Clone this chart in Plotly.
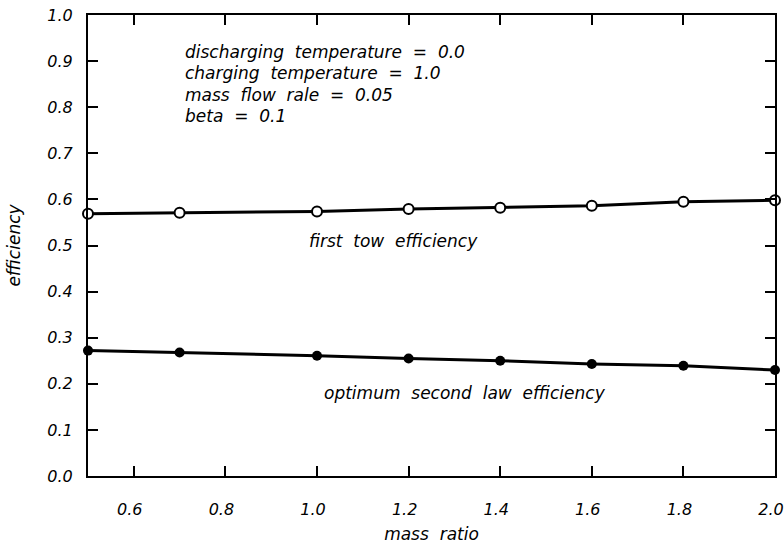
import plotly.graph_objects as go

# mass ratio values where points were plotted
mass_ratio = [0.5, 0.7, 1.0, 1.2, 1.4, 1.6, 1.8, 2.0]
first_law = [0.569, 0.571, 0.574, 0.579, 0.582, 0.586, 0.595, 0.598]
second_law = [0.272, 0.268, 0.261, 0.255, 0.250, 0.243, 0.239, 0.230]

x_ticks = [0.6, 0.8, 1.0, 1.2, 1.4, 1.6, 1.8, 2.0]
y_ticks = [0.0, 0.1, 0.2, 0.3, 0.4, 0.5, 0.6, 0.7, 0.8, 0.9, 1.0]

params = [
    "discharging  temperature  =  0.0",
    "charging  temperature  =  1.0",
    "mass  flow  rale  =  0.05",
    "beta  =  0.1",
]

FONT = "DejaVu Sans"
ifont = dict(family=FONT, size=16, color="black", style="italic")
afont = dict(family=FONT, size=17, color="black", style="italic")

fig = go.Figure()
fig.add_trace(go.Scatter(
    x=mass_ratio, y=first_law, mode="lines+markers",
    line=dict(color="black", width=3),
    marker=dict(symbol="circle", size=10, color="white",
                line=dict(color="black", width=2)),
    cliponaxis=False, showlegend=False))
fig.add_trace(go.Scatter(
    x=mass_ratio, y=second_law, mode="lines+markers",
    line=dict(color="black", width=3),
    marker=dict(symbol="circle", size=10, color="black"),
    cliponaxis=False, showlegend=False))

for i, t in enumerate(params):
    fig.add_annotation(text=t, xref="paper", yref="paper",
                       x=0.138, y=0.92 - i * 0.0466, xanchor="left", yanchor="middle",
                       showarrow=False, font=afont)

fig.add_annotation(text="first  tow  efficiency", x=0.978, y=0.51, xanchor="left",
                   showarrow=False, font=afont)
fig.add_annotation(text="optimum  second  law  efficiency", x=1.635, y=0.18,
                   xanchor="right", showarrow=False, font=afont)

axis_common = dict(
    showline=True, linecolor="black", linewidth=2, mirror="ticks",
    ticks="inside", ticklen=10, tickwidth=2, tickcolor="black",
    showgrid=False, zeroline=False, tickfont=ifont,
    automargin=False, ticklabeloverflow="allow",
)

fig.update_xaxes(range=[0.5, 2.0], tickvals=x_ticks,
                 ticktext=[f"{v:.1f}" for v in x_ticks],
                 ticklabelstandoff=18, ticklabelshift=-4,
                 title=dict(text="mass  ratio", font=afont, standoff=30),
                 **axis_common)
fig.update_yaxes(range=[0.0, 1.0], tickvals=y_ticks,
                 ticktext=[f"{v:.1f}" for v in y_ticks],
                 ticklabelstandoff=10,
                 title=dict(text="efficiency", font=afont, standoff=22),
                 **axis_common)

fig.update_layout(
    width=784, height=544,
    margin=dict(l=88, r=9, t=15, b=68),
    plot_bgcolor="white", paper_bgcolor="white",
    font=dict(family=FONT, color="black"),
)

fig.write_html("out.html", config={"displayModeBar": False},
               post_script="document.body.style.margin='0';")
